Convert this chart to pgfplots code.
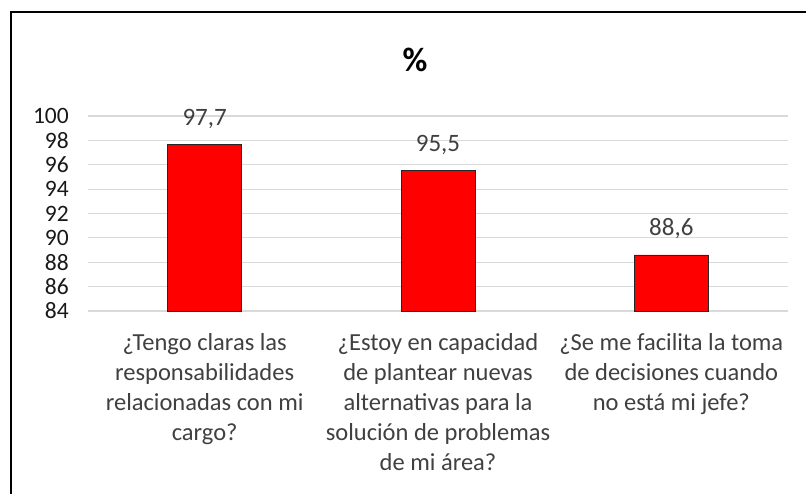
\documentclass[border=0pt]{standalone}
\usepackage{fontspec}
\setmainfont{Carlito}
\usepackage{pgfplots}
\pgfplotsset{compat=1.18}
\definecolor{txt}{HTML}{404040}
\definecolor{gridc}{HTML}{D9D9D9}
\begin{document}
\begin{tikzpicture}
\path[use as bounding box] (0pt,0pt) rectangle (806pt,494pt);
\draw[line width=2pt, black] (11pt,0pt) -- (11pt,482pt) -- (806pt,482pt);
\node[font=\fontsize{34}{38}\selectfont\bfseries, text=black] at (415pt,434pt) {\%};
\begin{axis}[
  at={(88pt,183pt)}, anchor=south west,
  scale only axis, width=700pt, height=195pt,
  xmin=-0.5, xmax=2.5, ymin=84, ymax=100,
  axis line style={draw=none},
  ytick={84,86,...,100},
  xtick=data,
  xticklabels={{¿Tengo claras las\\responsabilidades\\relacionadas con mi\\cargo?},
               {¿Estoy en capacidad\\de plantear nuevas\\alternativas para la\\solución de problemas\\de mi área?},
               {¿Se me facilita la toma\\de decisiones cuando\\no está mi jefe?}},
  major tick length=0pt,
  xmajorgrids=false,
  ymajorgrids=true, 
  y grid style={color=gridc, line width=1.2pt},
  yticklabel style={font=\fontsize{23.5}{26}\selectfont, text=black!90, inner sep=0pt, anchor=east, xshift=-19pt},
  xticklabel style={font=\fontsize{24.5}{30}\selectfont, text=txt, inner sep=0pt, anchor=north, align=center, yshift=-22pt},
  /pgf/number format/assume math mode=true,
  ybar, bar width=74pt,
  nodes near coords,
  nodes near coords style={font=\fontsize{25}{28}\selectfont, text=txt, inner sep=0pt, anchor=base, yshift=19pt,
    /pgf/number format/.cd, fixed, fixed zerofill, precision=1, use comma},
  clip=false,
]
\addplot[fill=red, draw=black!85, line width=0.8pt] coordinates {(0,97.7) (1,95.5) (2,88.6)};
\end{axis}
\end{tikzpicture}
\end{document}
